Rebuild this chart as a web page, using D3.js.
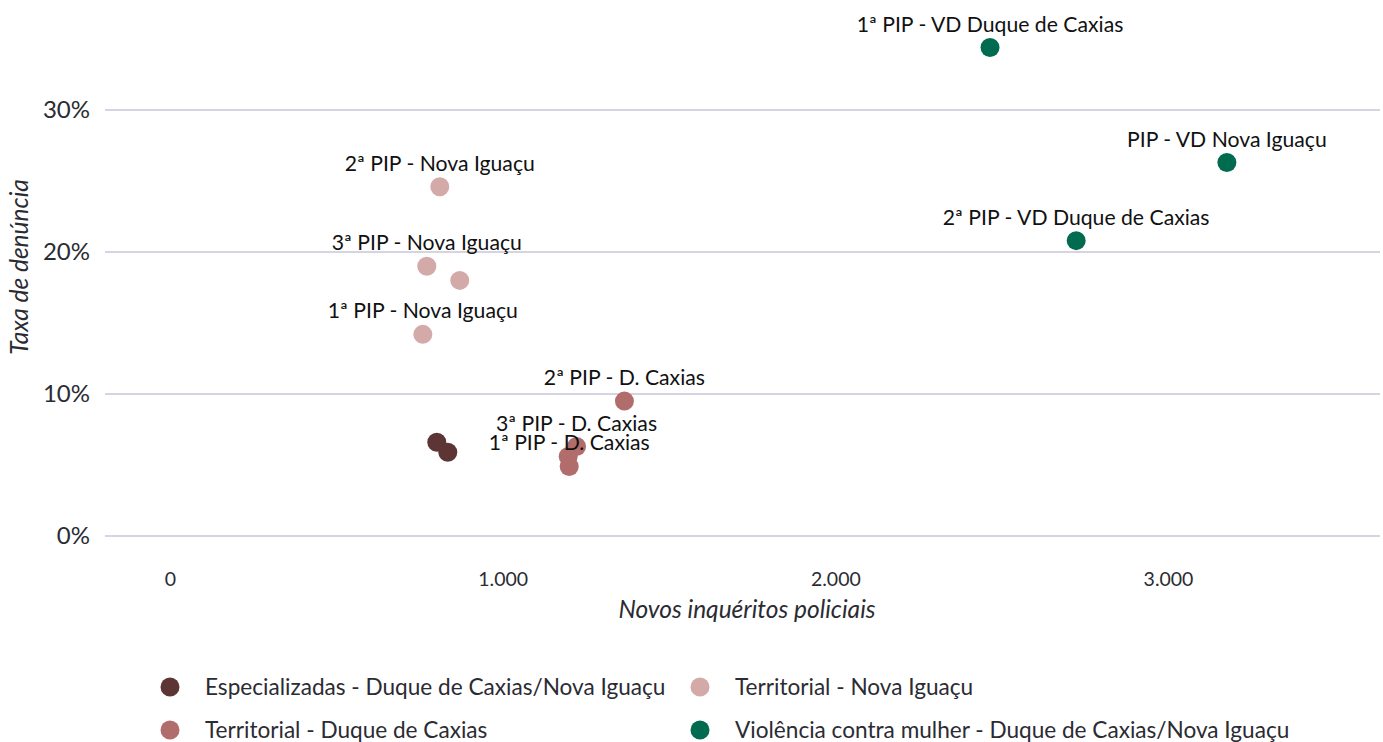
<!DOCTYPE html>
<html>
<head>
<meta charset="utf-8">
<script src="https://cdn.jsdelivr.net/npm/d3@7"></script>
<style>
  body { margin: 0; background: #fff; }
  text { font-family: Lato, "Open Sans", sans-serif; }
</style>
</head>
<body>
<div id="chart"></div>
<script>
// data
const groups = [
  "Especializadas - Duque de Caxias/Nova Iguaçu",
  "Territorial - Nova Iguaçu",
  "Territorial - Duque de Caxias",
  "Violência contra mulher - Duque de Caxias/Nova Iguaçu"
];
const groupColors = ["#5e3535", "#d4aaa9", "#b16d6b", "#006b4f"];

const pointGroup = [0, 0, 1, 1, 1, 1, 2, 2, 2, 2, 3, 3, 3];
const pointLabel = ["", "",
  "2ª PIP - Nova Iguaçu", "3ª PIP - Nova Iguaçu", "", "1ª PIP - Nova Iguaçu",
  "2ª PIP - D. Caxias", "3ª PIP - D. Caxias", "", "1ª PIP - D. Caxias",
  "1ª PIP - VD Duque de Caxias", "PIP - VD Nova Iguaçu", "2ª PIP - VD Duque de Caxias"];
const inqueritos = [802, 835, 811, 772, 871, 760, 1366, 1222, 1197, 1200, 2465, 3177, 2724];
const taxa = [0.066, 0.059, 0.246, 0.190, 0.180, 0.142, 0.095, 0.063, 0.056, 0.049, 0.344, 0.263, 0.208];

const xTicks = [0, 1000, 2000, 3000];
const yTicks = [0, 0.1, 0.2, 0.3];

const width = 1383, height = 742;
const plot = {left: 105, right: 1380, top: 0, bottom: 560};

const svg = d3.select("#chart").append("svg")
    .attr("width", width)
    .attr("height", height);

let x = d3.scaleLinear()
    .domain([0, 3000])
    .range([170, 1168]);

let y = d3.scaleLinear()
    .domain([0, 0.3])
    .range([536, 110]);

// horizontal grid lines
svg.append("g")
    .selectAll("line")
    .data(yTicks)
    .enter()
    .append("line")
    .attr("x1", plot.left)
    .attr("x2", plot.right)
    .attr("y1", d => y(d))
    .attr("y2", d => y(d))
    .attr("stroke", "#d6d4e2")
    .attr("stroke-width", 2);

// y tick labels
svg.append("g")
    .attr("transform", "translate(90,0)")
    .call(d3.axisLeft(y).tickValues(yTicks).tickSize(0).tickPadding(0)
        .tickFormat(d => Math.round(d * 100) + "%"))
    .call(g => g.select(".domain").remove())
    .selectAll("text")
    .attr("font-family", "Lato, sans-serif")
    .attr("font-size", 24)
    .attr("fill", "#2b2b33");

// x tick labels
const fmt = d3.formatLocale({decimal: ",", thousands: ".", grouping: [3], currency: ["R$", ""]}).format(",d");
svg.append("g")
    .attr("transform", "translate(0,572)")
    .call(d3.axisBottom(x).tickValues(xTicks).tickSize(0).tickPadding(0).tickFormat(fmt))
    .call(g => g.select(".domain").remove())
    .selectAll("text")
    .attr("font-family", "Lato, sans-serif")
    .attr("font-size", 19.5)
    .attr("fill", "#2b2b33");

// axis titles
svg.append("text")
    .attr("x", 747)
    .attr("y", 618)
    .attr("text-anchor", "middle")
    .style("font-style", "italic")
    .style("font-size", "24.5px")
    .attr("fill", "#2b2b33")
    .text("Novos inquéritos policiais");

svg.append("text")
    .attr("transform", "translate(28,267) rotate(-90)")
    .attr("text-anchor", "middle")
    .style("font-style", "italic")
    .style("font-size", "24.5px")
    .attr("fill", "#2b2b33")
    .text("Taxa de denúncia");

// points
const idx = d3.range(inqueritos.length);
svg.append("g")
    .selectAll("circle")
    .data(idx)
    .enter()
    .append("circle")
    .attr("cx", i => x(inqueritos[i]))
    .attr("cy", i => y(taxa[i]))
    .attr("r", 9.5)
    .attr("fill", i => groupColors[pointGroup[i]]);

// point labels
svg.append("g")
    .selectAll("text")
    .data(idx.filter(i => pointLabel[i] !== ""))
    .enter()
    .append("text")
    .attr("x", i => x(inqueritos[i]))
    .attr("y", i => y(taxa[i]) - 16)
    .attr("text-anchor", "middle")
    .style("font-size", "21.2px")
    .attr("fill", "#111")
    .text(i => pointLabel[i]);

// legend
const legendPos = [[170, 687], [700, 687], [170, 730], [700, 730]];
let legend = svg.append("g")
    .selectAll("g")
    .data(groups)
    .enter()
    .append("g")
    .attr("transform", (d, i) => `translate(${legendPos[i][0]}, ${legendPos[i][1]})`);

legend.append("circle")
    .attr("r", 9.5)
    .attr("fill", (d, i) => groupColors[i]);

legend.append("text")
    .attr("x", 35)
    .attr("dy", "0.35em")
    .style("font-size", "22.6px")
    .attr("fill", "#2b2b33")
    .text(d => d);
</script>
</body>
</html>
